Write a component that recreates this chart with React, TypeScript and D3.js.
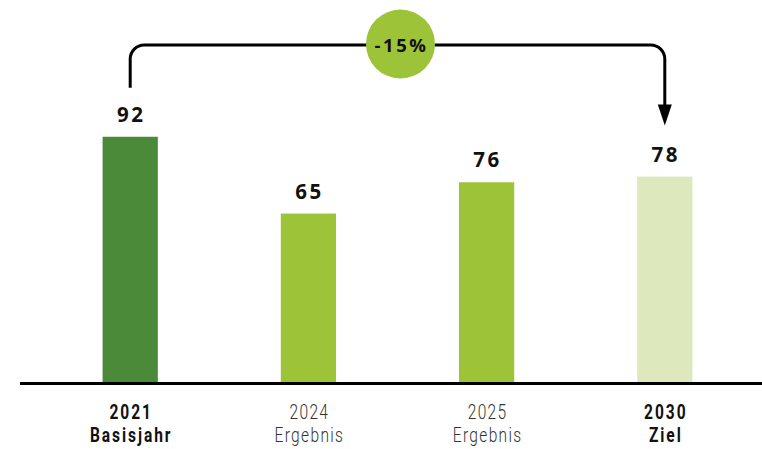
import React from "react";
import * as d3 from "d3";

const categories = ["2021", "2024", "2025", "2030"];
const subLabels = ["Basisjahr", "Ergebnis", "Ergebnis", "Ziel"];
const values = [92, 65, 76, 78];
const boldFlags = [true, false, false, true];
const barColors = ["#4b8a39", "#9dc438", "#9dc438", "#dde8bc"];
const changeLabel = "-15%";

const W = 762;
const H = 449;
const baseY = 382;
const narrow = 0.74;

export default function App() {
  const x = d3.scaleBand<string>().domain(categories).range([42, 753]).paddingInner(0.69).paddingOuter(0.34);
  const y = d3.scaleLinear().domain([5.8, 100]).range([baseY, baseY - 2.845 * 94.2]);
  const bw = x.bandwidth();
  const cx = (c: string) => (x(c) as number) + bw / 2;

  const x0 = cx(categories[0]);
  const x1 = cx(categories[3]);
  const topY = 45;
  const r = 14;
  const startY = y(values[0]) - 49;
  const arrowTip = y(values[3]) - 51;
  const arrowBase = arrowTip - 21;
  const path = d3.path();
  path.moveTo(x0, startY);
  path.lineTo(x0, topY + r);
  path.arcTo(x0, topY, x0 + r, topY, r);
  path.lineTo(x1 - r, topY);
  path.arcTo(x1, topY, x1, topY + r, r);
  path.lineTo(x1, arrowBase + 1);

  const circleX = (x0 + x1) / 2 + 3;

  const labelProps = (i: number) => ({
    textAnchor: "middle" as const,
    fontFamily: "Roboto, sans-serif",
    fontWeight: boldFlags[i] ? 700 : 300,
    fontSize: 21,
    letterSpacing: boldFlags[i] ? 2.6 : 1.8,
    fill: boldFlags[i] ? "#111" : "#333",
  });

  return (
    <svg width={W} height={H} style={{ position: "absolute", left: 0, top: 0, background: "#fff" }}>
      {categories.map((c, i) => (
        <rect key={c} x={x(c)} y={y(values[i])} width={bw} height={baseY - y(values[i])} fill={barColors[i]} />
      ))}
      {categories.map((c, i) => (
        <text
          key={"v" + c}
          x={cx(c) + 1}
          y={y(values[i]) - 15}
          textAnchor="middle"
          fontFamily="'Open Sans', sans-serif"
          fontWeight={700}
          fontSize={20.5}
          letterSpacing={2.5}
          fill="#111"
        >
          {values[i]}
        </text>
      ))}
      <line x1={20} x2={W} y1={383.5} y2={383.5} stroke="#000" strokeWidth={3} />
      {categories.map((c, i) => (
        <g key={"l" + c} transform={`translate(${cx(c) + 1},0) scale(${narrow},1)`}>
          <text x={0} y={419} {...labelProps(i)}>{c}</text>
          <text x={0} y={442} {...labelProps(i)}>{subLabels[i]}</text>
        </g>
      ))}
      <path d={path.toString()} fill="none" stroke="#000" strokeWidth={3} />
      <path d={`M${x1 - 7},${arrowBase} L${x1 + 7},${arrowBase} L${x1},${arrowTip} Z`} fill="#000" />
      <circle cx={circleX} cy={44} r={34.5} fill="#9dc438" />
      <text
        x={circleX + 1}
        y={51.5}
        textAnchor="middle"
        fontFamily="'Open Sans', sans-serif"
        fontWeight={700}
        fontSize={18.5}
        letterSpacing={2.5}
        fill="#111"
      >
        {changeLabel}
      </text>
    </svg>
  );
}
